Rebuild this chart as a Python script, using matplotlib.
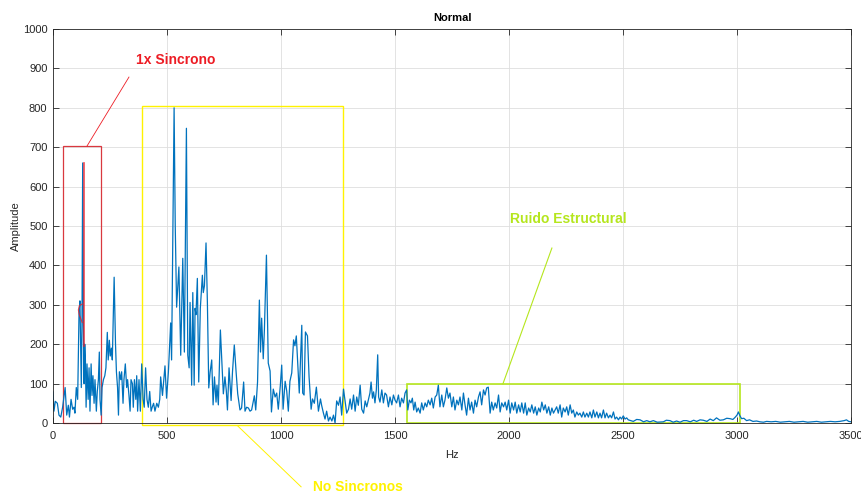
import matplotlib.pyplot as plt
from matplotlib.patches import Rectangle

plt.rcParams['font.family'] = ['Liberation Sans', 'DejaVu Sans']

# spectrum (Hz, amplitude)
freq = [0, 4, 10, 19, 26, 34, 42, 53, 60, 67, 72, 79, 86, 92, 96, 102, 108, 114, 118, 121,
        124, 127, 130, 133, 136, 139, 142, 145, 149, 154, 158, 162, 167, 171, 175, 180, 184, 190, 194, 199,
        203, 206, 211, 215, 221, 227, 232, 238, 242, 247, 251, 256, 260, 268, 274, 278, 283, 287, 291, 297,
        301, 307, 311, 317, 323, 327, 333, 338, 342, 348, 352, 357, 363, 367, 371, 377, 383, 389, 395, 400,
        406, 412, 418, 424, 430, 435, 441, 447, 455, 462, 468, 472, 480, 491, 498, 506, 516, 520, 531, 536,
        542, 552, 560, 569, 576, 585, 591, 597, 601, 608, 613, 619, 623, 627, 633, 639, 646, 655, 659, 664,
        671, 677, 683, 689, 696, 702, 708, 715, 719, 725, 734, 740, 747, 754, 760, 765, 772, 781, 787, 795,
        803, 810, 820, 827, 836, 842, 849, 857, 864, 871, 883, 889, 897, 905, 910, 915, 922, 927, 936, 944,
        952, 958, 966, 974, 981, 988, 997, 1003, 1009, 1018, 1025, 1032, 1039, 1047, 1055, 1061, 1067, 1073, 1080, 1091,
        1095, 1101, 1107, 1116, 1123, 1132, 1138, 1146, 1155, 1164, 1173, 1178, 1186, 1193, 1200, 1208, 1215, 1223, 1230, 1237,
        1244, 1252, 1259, 1266, 1274, 1281, 1288, 1296, 1303, 1310, 1318, 1325, 1332, 1339, 1347, 1354, 1362, 1369, 1376, 1383,
        1390, 1395, 1401, 1406, 1412, 1418, 1424, 1428, 1434, 1442, 1449, 1456, 1463, 1471, 1478, 1486, 1493, 1500, 1507, 1515,
        1522, 1529, 1537, 1544, 1551, 1556, 1563, 1570, 1576, 1582, 1588, 1595, 1602, 1610, 1617, 1624, 1632, 1639, 1646, 1654,
        1661, 1668, 1676, 1683, 1690, 1697, 1705, 1712, 1719, 1727, 1734, 1741, 1749, 1756, 1763, 1771, 1778, 1785, 1793, 1800,
        1807, 1814, 1822, 1829, 1836, 1844, 1851, 1858, 1866, 1873, 1880, 1888, 1895, 1902, 1909, 1917, 1924, 1931, 1939, 1946,
        1954, 1961, 1968, 1976, 1983, 1990, 1998, 2005, 2012, 2020, 2027, 2034, 2042, 2049, 2056, 2064, 2071, 2078, 2086, 2093,
        2100, 2108, 2115, 2122, 2130, 2137, 2144, 2152, 2159, 2166, 2174, 2181, 2188, 2195, 2202, 2209, 2216, 2224, 2231, 2238,
        2246, 2253, 2260, 2268, 2275, 2282, 2289, 2297, 2304, 2311, 2319, 2326, 2333, 2341, 2348, 2355, 2363, 2370, 2377, 2385,
        2392, 2399, 2406, 2414, 2421, 2428, 2436, 2443, 2450, 2458, 2465, 2472, 2480, 2487, 2494, 2501, 2509, 2516, 2523, 2545,
        2560, 2575, 2590, 2604, 2618, 2633, 2650, 2677, 2690, 2706, 2720, 2735, 2750, 2765, 2779, 2795, 2810, 2823, 2838, 2852,
        2868, 2882, 2896, 2910, 2925, 2940, 2955, 2969, 2982, 2991, 3000, 3006, 3013, 3020, 3030, 3042, 3055, 3070, 3086, 3100,
        3116, 3130, 3150, 3170, 3190, 3210, 3230, 3250, 3270, 3290, 3310, 3330, 3350, 3370, 3390, 3410, 3430, 3450, 3470, 3480,
        3490, 3500]
amp = [79, 30, 55, 50, 20, 15, 40, 90, 20, 45, 15, 60, 35, 40, 25, 90, 60, 280, 310, 200,
       90, 260, 660, 250, 100, 200, 160, 40, 150, 60, 140, 30, 150, 70, 120, 50, 110, 30, 80, 110,
       180, 60, 20, 90, 110, 120, 140, 230, 160, 210, 170, 190, 160, 370, 200, 130, 90, 20, 130, 110,
       130, 50, 110, 150, 90, 110, 70, 30, 110, 100, 40, 110, 60, 120, 30, 110, 30, 150, 60, 40,
       140, 60, 40, 80, 30, 40, 50, 30, 50, 40, 60, 117, 70, 145, 63, 130, 254, 160, 800, 500,
       294, 396, 172, 418, 180, 748, 172, 140, 306, 96, 331, 96, 291, 275, 367, 104, 291, 375, 331, 348,
       457, 306, 89, 129, 160, 46, 117, 53, 96, 46, 236, 160, 74, 117, 82, 33, 140, 57, 129, 198,
       129, 74, 33, 38, 104, 30, 40, 38, 30, 33, 69, 33, 104, 312, 180, 266, 163, 236, 426, 152,
       132, 28, 86, 66, 76, 35, 96, 147, 35, 106, 81, 30, 106, 127, 211, 196, 221, 152, 76, 248,
       76, 71, 231, 221, 117, 35, 61, 50, 91, 30, 61, 45, 25, 10, 30, 5, 15, 5, 20, 0,
       56, 45, 66, 20, 86, 56, 25, 35, 61, 35, 71, 30, 66, 45, 96, 35, 25, 56, 41, 58,
       76, 104, 63, 79, 51, 84, 173, 66, 53, 84, 51, 76, 71, 41, 66, 46, 71, 58, 51, 71,
       41, 63, 51, 76, 84, 33, 58, 51, 63, 33, 53, 28, 38, 25, 51, 33, 51, 41, 58, 46,
       63, 38, 66, 71, 96, 41, 71, 41, 58, 89, 63, 76, 41, 66, 33, 58, 46, 66, 33, 76,
       46, 20, 63, 33, 53, 25, 58, 41, 66, 79, 46, 84, 71, 89, 91, 25, 53, 33, 51, 38,
       71, 28, 51, 41, 53, 33, 58, 25, 51, 33, 53, 25, 46, 28, 51, 25, 51, 20, 38, 28,
       46, 25, 41, 20, 38, 28, 53, 33, 46, 25, 41, 20, 38, 25, 33, 41, 25, 46, 15, 38,
       28, 41, 20, 46, 25, 33, 15, 28, 20, 25, 15, 28, 15, 25, 15, 28, 13, 33, 15, 28,
       13, 25, 13, 33, 13, 25, 13, 20, 13, 28, 10, 15, 8, 15, 10, 18, 10, 13, 8, 4,
       9, 8, 3, 6, 3, 6, 2, 3, 7, 6, 2, 5, 2, 6, 6, 3, 7, 4, 8, 7,
       4, 10, 6, 13, 7, 8, 12, 11, 9, 14, 20, 28, 18, 11, 12, 6, 8, 4, 5, 3,
       2, 4, 3, 4, 2, 3, 4, 2, 3, 4, 2, 3, 4, 2, 3, 4, 3, 4, 6, 8,
       4, 3]

red = '#ED1C24'
yellow = '#FFF200'
lime = '#B5E61D'

fig = plt.figure(figsize=(8.61, 4.96), dpi=100)
ax = fig.add_axes([0.0616, 0.1472, 0.9268, 0.7943])

ax.plot(freq, amp, color='#0072BD', lw=0.9)

ax.set_xlim(0, 3500)
ax.set_ylim(0, 1000)
ax.set_xticks(range(0, 3501, 500))
ax.set_yticks(range(0, 1001, 100))
ax.grid(True, color='#dedede', lw=0.6)
ax.set_axisbelow(True)
ax.tick_params(direction='in', top=True, right=True, length=4, width=0.6,
               labelsize=8, colors='#262626')
ax.tick_params(axis='x', pad=6)
ax.tick_params(axis='y', pad=4)
for s in ax.spines.values():
    s.set_color('#262626')
    s.set_linewidth(0.6)

ax.set_title('Normal', fontsize=8, fontweight='bold', color='black', pad=6)
ax.set_xlabel('Hz', fontsize=8, color='#262626', labelpad=6)
ax.set_ylabel('Amplitude', fontsize=8, color='#262626', labelpad=1)

# boxes and call-outs
ax.add_patch(Rectangle((44, 0), 166, 703, fill=False, ec='#D9383F', lw=0.9, clip_on=False))
ax.add_patch(Rectangle((390, -5), 882, 810, fill=False, ec=yellow, lw=1.0, clip_on=False))
ax.add_patch(Rectangle((1553, 0), 1460, 99, fill=False, ec=lime, lw=1.2, clip_on=False))

ax.plot([333, 149], [878, 703], color=red, lw=0.6, clip_on=False)
ax.plot([137, 137], [660, 195], color=red, lw=1.2, alpha=0.8)
ax.plot([128, 116, 111, 115, 128], [302, 298, 287, 275, 255], color=red, lw=0.8, alpha=0.8)
ax.plot([811, 1088], [-8, -162], color=yellow, lw=0.7, clip_on=False)
ax.plot([2188, 1973], [444, 99], color=lime, lw=0.8, clip_on=False)

ax.text(364, 921, '1x Sincrono', color=red, fontsize=10, fontweight='bold', va='center')
ax.text(2004, 518, 'Ruido Estructural', color=lime, fontsize=10, fontweight='bold', va='center')
ax.text(1140, -162, 'No Sincronos', color=yellow, fontsize=10, fontweight='bold', va='center')

plt.savefig('out.png', dpi=100)
